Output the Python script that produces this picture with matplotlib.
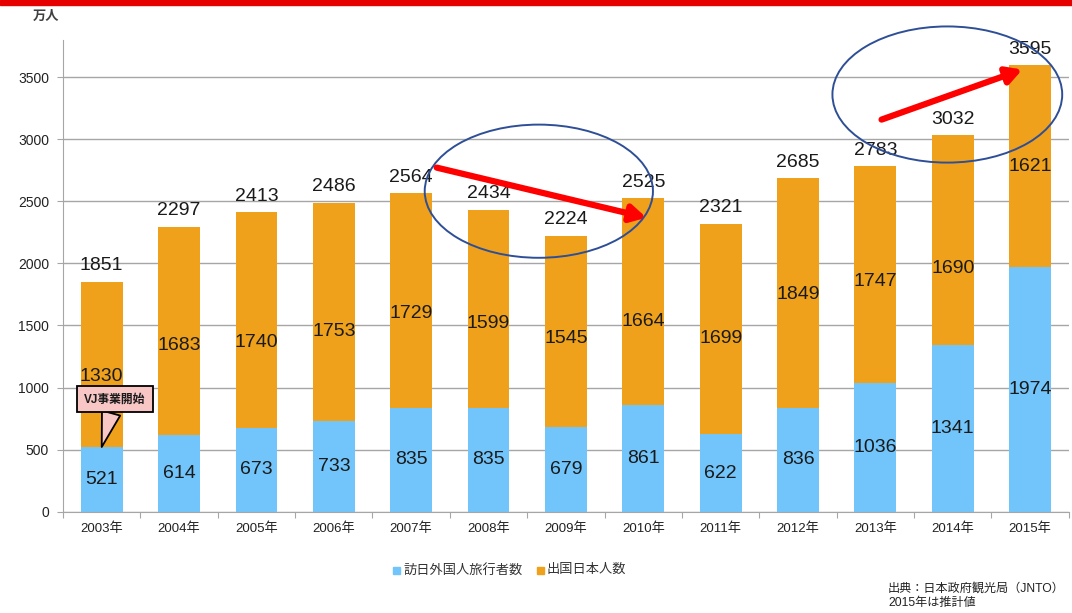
import matplotlib
matplotlib.use("Agg")
import matplotlib.pyplot as plt
from matplotlib.patches import Ellipse, Rectangle

plt.rcParams["font.family"] = ["Liberation Sans", "Noto Sans CJK JP", "DejaVu Sans"]

years = ["2003年", "2004年", "2005年", "2006年", "2007年", "2008年", "2009年",
         "2010年", "2011年", "2012年", "2013年", "2014年", "2015年"]
inbound = [521, 614, 673, 733, 835, 835, 679, 861, 622, 836, 1036, 1341, 1974]
outbound = [1330, 1683, 1740, 1753, 1729, 1599, 1545, 1664, 1699, 1849, 1747, 1690, 1621]
totals = [1851, 2297, 2413, 2486, 2564, 2434, 2224, 2525, 2321, 2685, 2783, 3032, 3595]

# the orange labels were nudged by hand in the original, this keeps them there
outbound_label_drop = [97, 113, 177, 161, 105, 121, 56, 161, 73, 12, 54, 226, 4]

BLUE = "#72c5fb"
ORANGE = "#efa11c"
GRID = "#a6a6a6"
INK = "#1a1a1a"

fig = plt.figure(figsize=(10.72, 6.13), dpi=100)
ax = fig.add_axes([0.0588, 0.1653, 0.9382, 0.7694])

x = range(len(years))
ax.bar(x, inbound, width=0.54, color=BLUE, zorder=2)
ax.bar(x, outbound, width=0.54, bottom=inbound, color=ORANGE, zorder=2)

for i in x:
    ax.text(i, inbound[i] / 2, str(inbound[i]), ha="center", va="center",
            fontsize=14, color=INK, zorder=4)
    ax.text(i, inbound[i] + outbound[i] / 2 - outbound_label_drop[i], str(outbound[i]),
            ha="center", va="center", fontsize=14, color=INK, zorder=4)
    ax.text(i, totals[i] + 130, str(totals[i]), ha="center", va="center",
            fontsize=14, color=INK, zorder=4)

ax.set_xlim(-0.5, len(years) - 0.5)
ax.set_ylim(0, 3800)
ax.set_yticks(range(0, 4000, 500))
ax.yaxis.grid(True, color=GRID, linewidth=1)
ax.set_axisbelow(True)
ax.tick_params(axis="y", labelsize=10, length=4, color=GRID, pad=6, labelcolor="#222222")

# category labels centred, tick marks on the boundaries
ax.set_xticks([i - 0.5 for i in range(len(years) + 1)])
ax.set_xticklabels([])
ax.set_xticks(list(x), minor=True)
ax.set_xticklabels(years, minor=True, fontsize=9.5, color="#222222")
ax.tick_params(axis="x", which="major", length=4, color=GRID)
ax.tick_params(axis="x", which="minor", length=0, pad=8)

for s in ["top", "right"]:
    ax.spines[s].set_visible(False)
for s in ["left", "bottom"]:
    ax.spines[s].set_color(GRID)

# highlight ellipses and trend arrows
ax.add_patch(Ellipse((5.65, 2582), 2.95, 1073, fill=False, edgecolor="#2e4f96",
                     linewidth=1.4, zorder=5, clip_on=False))
ax.add_patch(Ellipse((10.93, 3361), 2.97, 1097, fill=False, edgecolor="#2e4f96",
                     linewidth=1.4, zorder=5, clip_on=False))
arrow = dict(arrowstyle="-|>,head_length=0.9,head_width=0.5", color="#ff0000",
             linewidth=4.5, shrinkA=0, shrinkB=0)
ax.annotate("", xy=(7.04, 2369), xytext=(4.33, 2772), arrowprops=arrow, zorder=6)
ax.annotate("", xy=(11.9, 3562), xytext=(10.08, 3159), arrowprops=arrow, zorder=6)

# callout for 2003
ax.annotate("VJ事業開始", xy=(0, inbound[0]), xytext=(0.17, 905),
            ha="center", va="center", fontsize=8.5, fontweight="bold", color=INK,
            bbox=dict(boxstyle="square,pad=0.6", facecolor="#f9c6c6",
                      edgecolor="black", linewidth=1.3),
            arrowprops=dict(arrowstyle="wedge,tail_width=1.6,shrink_factor=0.5",
                            facecolor="#f9c6c6", edgecolor="black", linewidth=1.3,
                            shrinkA=0, shrinkB=0),
            zorder=7)

# unit label
fig.text(33 / 1072, 1 - 17 / 613, "万人", fontsize=9.5, color="#404040",
         fontweight="bold", va="center")

# red header stripe
fig.patches.append(Rectangle((0, 1 - 5 / 613), 1, 5 / 613, transform=fig.transFigure,
                             color="#e60000", zorder=0))

# legend
fig.patches.append(Rectangle((393 / 1072, 1 - 574 / 613), 7 / 1072, 7 / 613,
                             transform=fig.transFigure, color=BLUE))
fig.text(403 / 1072, 1 - 570 / 613, "訪日外国人旅行者数", fontsize=9.5,
         color="#333333", va="center")
fig.patches.append(Rectangle((537 / 1072, 1 - 574 / 613), 7 / 1072, 7 / 613,
                             transform=fig.transFigure, color=ORANGE))
fig.text(546 / 1072, 1 - 570 / 613, "出国日本人数", fontsize=9.5,
         color="#333333", va="center")

# source note
fig.text(888 / 1072, 1 - 589 / 613, "出典：日本政府観光局（JNTO）", fontsize=8.7,
         color="#222222", va="center")
fig.text(888 / 1072, 1 - 603 / 613, "2015年は推計値", fontsize=8.7,
         color="#222222", va="center")

fig.savefig("out.png", dpi=100)
